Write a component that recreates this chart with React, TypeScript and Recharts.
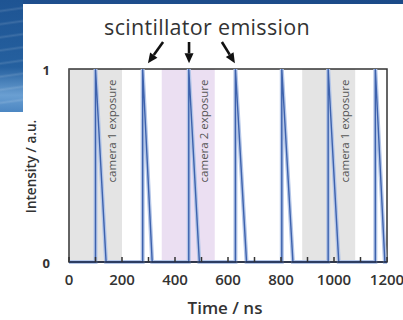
import React from 'react';
import { LineChart, Line, XAxis, YAxis, ReferenceArea, ReferenceLine } from 'recharts';

// peak onset / end of decay (ns)
const peakRise = [100, 278, 452, 628, 803, 978, 1156];
const peakFall = [140, 314, 492, 670, 845, 1018, 1192];
const peakHeight = [1, 1, 1, 1, 1, 1, 1];

const xTicks = [0, 100, 200, 300, 400, 500, 600, 700, 800, 900, 1000, 1100, 1200];
const xLabels = [0, 200, 400, 600, 800, 1000, 1200];
const yTicks = [0, 1];

// exposure windows (ns)
const bandStart = [0, 350, 880];
const bandEnd = [200, 550, 1080];
const bandLabel = ['camera 1 exposure', 'camera 2 exposure', 'camera 1 exposure'];
const bandColor = ['#e4e4e4', '#ebdff2', '#e4e4e4'];

// arrows pointing at the three middle pulses
const arrowFrom = [{ x: 355, y: 1.14 }, { x: 453, y: 1.14 }, { x: 577, y: 1.14 }];
const arrowTo = [{ x: 298, y: 1.03 }, { x: 453, y: 1.03 }, { x: 626, y: 1.03 }];

const series: { t: number; v: number }[] = [{ t: 0, v: 0 }];
peakRise.forEach((t, i) => {
  series.push({ t, v: 0 }, { t, v: peakHeight[i] }, { t: peakFall[i], v: 0 });
});
series.push({ t: 1200, v: 0 });

const FONT = '"Open Sans", "DejaVu Sans", sans-serif';
const INK = '#333';

const XTick = (props: any) => {
  const { x, y, payload } = props;
  return (
    <g>
      <line x1={x} x2={x} y1={y} y2={y - 5} stroke={INK} strokeWidth={1.5} />
      {xLabels.includes(payload.value) && (
        <text x={x} y={y + 23} textAnchor="middle" fontFamily={FONT} fontSize={15} fontWeight={600} fill={INK}>
          {payload.value}
        </text>
      )}
    </g>
  );
};

const YTick = (props: any) => {
  const { x, y, payload } = props;
  return (
    <text x={x - 19} y={y + 1} textAnchor="end" dominantBaseline="central" fontFamily={FONT} fontSize={13} fontWeight={700} fill={INK}>
      {payload.value}
    </text>
  );
};

const Arrow = (props: any) => {
  const { x1, y1, x2, y2 } = props;
  const dx = x2 - x1;
  const dy = y2 - y1;
  const len = Math.sqrt(dx * dx + dy * dy) || 1;
  const ux = dx / len;
  const uy = dy / len;
  const head = 10;
  const half = 4.5;
  const bx = x2 - ux * head;
  const by = y2 - uy * head;
  const pts = `${x2},${y2} ${bx - uy * half},${by + ux * half} ${bx + uy * half},${by - ux * half}`;
  return (
    <g>
      <line x1={x1} y1={y1} x2={bx} y2={by} stroke="#111" strokeWidth={2.6} />
      <polygon points={pts} fill="#111" />
    </g>
  );
};

const bandText = (text: string) => (p: any) => {
  const vb = p.viewBox;
  const cx = vb.x + vb.width - 11;
  const cy = vb.y + 62;
  return (
    <text
      x={cx}
      y={cy}
      transform={`rotate(-90 ${cx} ${cy})`}
      textAnchor="middle"
      dominantBaseline="central"
      fontFamily={FONT}
      fontSize={11.5}
      fill="#555"
    >
      {text}
    </text>
  );
};

export default function App() {
  return (
    <div style={{ position: 'absolute', left: 0, top: 0, width: 403, height: 320, background: '#fff', overflow: 'hidden' }}>
      {/* slide background peeking out */}
      <div style={{ position: 'absolute', left: 0, top: 0, width: 403, height: 4, background: 'linear-gradient(90deg, #1f4f8e, #1b4a88)' }} />
      <div
        style={{
          position: 'absolute',
          left: 0,
          top: 0,
          width: 23,
          height: 112,
          background:
            'repeating-linear-gradient(172deg, rgba(255,255,255,0) 0px, rgba(255,255,255,0) 9px, rgba(255,255,255,0.12) 11px, rgba(255,255,255,0) 13px), linear-gradient(180deg, #1e5493 0%, #25609f 60%, #6a9fd2 85%, #4c86c2 100%)',
        }}
      />
      <LineChart width={403} height={320} data={series} margin={{ top: 69, right: 16, bottom: 0, left: 0 }} style={{ position: 'absolute', left: 0, top: 0 }}>
        {bandStart.map((s, i) => (
          <ReferenceArea
            key={`band-${i}`}
            x1={s}
            x2={bandEnd[i]}
            y1={0}
            y2={1}
            fill={bandColor[i]}
            fillOpacity={1}
            stroke="none"
            label={{ content: bandText(bandLabel[i]) }}
          />
        ))}
        <XAxis
          dataKey="t"
          type="number"
          domain={[0, 1200]}
          ticks={xTicks}
          interval={0}
          height={58}
          tickSize={0}
          tickMargin={0}
          tickLine={false}
          axisLine={{ stroke: '#1f2a44', strokeWidth: 1.5 }}
          tick={<XTick />}
          label={{
            content: (p: any) => (
              <text x={p.viewBox.x + p.viewBox.width / 2 - 3} y={314} textAnchor="middle" fontFamily={FONT} fontSize={17} fontWeight={600} fill={INK}>
                Time / ns
              </text>
            ),
          }}
        />
        <YAxis
          type="number"
          domain={[0, 1]}
          ticks={yTicks}
          width={69}
          tickSize={0}
          tickMargin={0}
          tickLine={false}
          axisLine={{ stroke: '#666', strokeWidth: 1.2 }}
          tick={<YTick />}
          label={{
            content: (p: any) => {
              const cx = 31;
              const cy = p.viewBox.y + p.viewBox.height / 2 + 1;
              return (
                <text x={cx} y={cy} transform={`rotate(-90 ${cx} ${cy})`} textAnchor="middle" dominantBaseline="central" fontFamily={FONT} fontSize={13.5} fontWeight={600} fill={INK}>
                  Intensity / a.u.
                </text>
              );
            },
          }}
        />
        <Line type="linear" dataKey="v" stroke="#b4c6e8" strokeWidth={4} dot={false} isAnimationActive={false} />
        <Line type="linear" dataKey="v" stroke="#3d62ad" strokeWidth={1.4} dot={false} isAnimationActive={false} />
        <ReferenceArea x1={0} x2={1200} y1={0} y2={1} fill="none" stroke={INK} strokeWidth={1.5} ifOverflow="visible" />
        {arrowFrom.map((a, i) => (
          <ReferenceLine key={`arrow-${i}`} segment={[a, arrowTo[i]]} ifOverflow="visible" shape={<Arrow />} />
        ))}
      </LineChart>
      <svg width={403} height={60} style={{ position: 'absolute', left: 0, top: 0, pointerEvents: 'none' }}>
        <text x={207} y={35} textAnchor="middle" fontFamily={FONT} fontSize={21.5} letterSpacing={0.3} fill={INK}>
          scintillator emission
        </text>
      </svg>
    </div>
  );
}
